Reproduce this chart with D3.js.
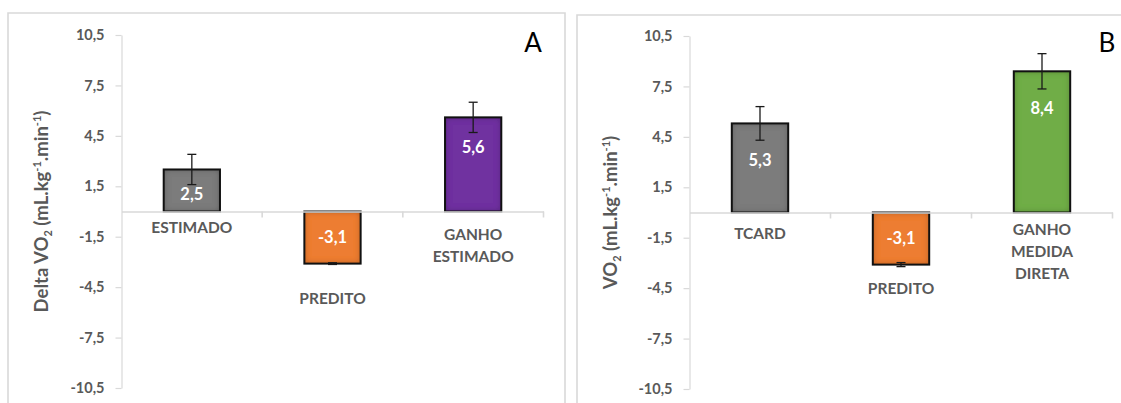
<!DOCTYPE html>
<html>
<head>
<meta charset="utf-8">
<script src="https://cdn.jsdelivr.net/npm/d3@7"></script>
<style>
  html, body { margin: 0; padding: 0; background: #fff; }
  svg { display: block; }
  text { font-family: Lato, "Open Sans", "DejaVu Sans", sans-serif; }
</style>
</head>
<body>
<svg id="chart" width="1121" height="403"></svg>
<script>
// ---- data ----
const tickValues = [-10.5, -7.5, -4.5, -1.5, 1.5, 4.5, 7.5, 10.5];

const categoriesA = [["ESTIMADO"], ["PREDITO"], ["GANHO", "ESTIMADO"]];
const valuesA = [2.5, -3.1, 5.6];
const errorsA = [0.9, 0.05, 0.9];
const colorsA = ["#7b7b7b", "#ed7d31", "#7030a0"];

const categoriesB = [["TCARD"], ["PREDITO"], ["GANHO", "MEDIDA", "DIRETA"]];
const valuesB = [5.3, -3.1, 8.4];
const errorsB = [1.0, 0.12, 1.05];
const colorsB = ["#7b7b7b", "#ed7d31", "#70ad47"];

// ---- layout ----
const svg = d3.select("#chart");
const fmt = v => d3.format(".1f")(v).replace(".", ",").replace("−", "-");
const axisGrey = "#d9d9d9";
const textGrey = "#595959";

// inner shadow used on the bar fills
const defs = svg.append("defs");
const f = defs.append("filter").attr("id", "innerShade")
  .attr("x", "-20%").attr("y", "-20%").attr("width", "140%").attr("height", "140%");
f.append("feComponentTransfer").attr("in", "SourceAlpha").attr("result", "inv")
  .append("feFuncA").attr("type", "table").attr("tableValues", "1 0");
f.append("feGaussianBlur").attr("in", "inv").attr("stdDeviation", 3).attr("result", "blur");
f.append("feFlood").attr("flood-color", "#000").attr("flood-opacity", 0.55).attr("result", "col");
f.append("feComposite").attr("in", "col").attr("in2", "blur").attr("operator", "in").attr("result", "sh");
f.append("feComposite").attr("in", "sh").attr("in2", "SourceAlpha").attr("operator", "in").attr("result", "shIn");
const m = f.append("feMerge");
m.append("feMergeNode").attr("in", "SourceGraphic");
m.append("feMergeNode").attr("in", "shIn");

function panel(cfg) {
  const g = svg.append("g");

  // frame
  g.append("path")
    .attr("d", `M${cfg.frame[0]},${cfg.frame[3]} V${cfg.frame[1]} H${cfg.frame[2]} V${cfg.frame[3]}`)
    .attr("fill", "none").attr("stroke", axisGrey).attr("stroke-width", 1.6);

  const y = d3.scaleLinear().domain([-10.5, 10.5]).range([cfg.bottom, cfg.top]);
  const x = d3.scaleBand().domain(d3.range(cfg.values.length))
    .range([cfg.left, cfg.right]).paddingInner(0.6).paddingOuter(0.3);

  // y axis
  const yAxis = g.append("g").attr("transform", `translate(${cfg.left},0)`)
    .call(d3.axisLeft(y).tickValues(tickValues).tickSizeInner(6).tickSizeOuter(0).tickPadding(11).tickFormat(fmt));
  yAxis.select(".domain").attr("stroke", axisGrey).attr("stroke-width", 1.2);
  yAxis.selectAll(".tick line").attr("stroke", axisGrey).attr("stroke-width", 1.2);
  yAxis.selectAll(".tick text").attr("fill", textGrey).attr("font-size", 14.5)
    .attr("font-weight", 700).attr("font-family", "Lato, sans-serif");

  // y title
  const t = g.append("text")
    .attr("transform", `translate(${cfg.titleX},${(cfg.top + cfg.bottom) / 2}) rotate(-90)`)
    .attr("text-anchor", "middle").attr("fill", textGrey)
    .attr("font-size", 18.5).attr("font-weight", 700);
  cfg.title.forEach(p => {
    const s = t.append("tspan").text(p.t);
    if (p.sub) s.attr("font-size", 11).attr("dy", 4);
    if (p.sup) s.attr("font-size", 11).attr("dy", -7);
    if (p.back) s.attr("dy", p.back);
  });

  // bars
  const y0 = y(0);
  const bars = g.append("g");
  cfg.values.forEach((v, i) => {
    const bx = x(i), bw = x.bandwidth();
    const top = Math.min(y(v), y0), h = Math.abs(y(v) - y0);
    bars.append("rect").attr("x", bx).attr("y", top).attr("width", bw).attr("height", h)
      .attr("fill", cfg.colors[i]).attr("filter", "url(#innerShade)");
    bars.append("rect").attr("x", bx).attr("y", top).attr("width", bw).attr("height", h)
      .attr("fill", "none").attr("stroke", "#111").attr("stroke-width", 2);
  });

  // x axis (zero line + category dividers)
  const xAxis = g.append("g").attr("transform", `translate(0,${y0})`)
    .call(d3.axisBottom(x).tickSize(0).tickFormat(""));
  xAxis.select(".domain").attr("stroke", axisGrey).attr("stroke-width", 1.6);
  xAxis.selectAll(".tick").remove();
  d3.range(1, cfg.values.length + 1).forEach(k => {
    const xx = cfg.left + x.step() * k;
    xAxis.append("line").attr("x1", xx).attr("x2", xx).attr("y1", 0).attr("y2", 6)
      .attr("stroke", axisGrey).attr("stroke-width", 1.6);
  });

  // error bars
  const err = g.append("g").attr("stroke", "#1a1a1a").attr("stroke-width", 1.3);
  cfg.values.forEach((v, i) => {
    const cx = x(i) + x.bandwidth() / 2;
    const e = cfg.errors[i];
    const yHi = y(v + e), yLo = y(v - e);
    err.append("line").attr("x1", cx).attr("x2", cx).attr("y1", yHi).attr("y2", yLo);
    err.append("line").attr("x1", cx - 4.5).attr("x2", cx + 4.5).attr("y1", yHi).attr("y2", yHi);
    err.append("line").attr("x1", cx - 4.5).attr("x2", cx + 4.5).attr("y1", yLo).attr("y2", yLo);
  });

  // value labels
  cfg.values.forEach((v, i) => {
    const cx = x(i) + x.bandwidth() / 2;
    const ly = v >= 0 ? y(v) + cfg.labelDy[i] : (y(v) + y0) / 2;
    g.append("text").attr("x", cx).attr("y", ly).attr("dy", "0.35em")
      .attr("text-anchor", "middle").attr("fill", "#fff")
      .attr("font-size", 16.5).attr("font-weight", 700).text(fmt(v));
  });

  // category labels
  cfg.categories.forEach((lines, i) => {
    const cx = x(i) + x.bandwidth() / 2;
    lines.forEach((ln, j) => {
      g.append("text").attr("x", cx).attr("y", cfg.catY[i] + j * 22).attr("dy", "0.35em")
        .attr("text-anchor", "middle").attr("fill", textGrey)
        .attr("font-size", 15.5).attr("font-weight", 700).text(ln);
    });
  });

  // panel letter
  g.append("text").attr("x", cfg.letterX).attr("y", 43).attr("dy", "0.35em")
    .attr("text-anchor", "middle").attr("fill", "#000")
    .attr("font-size", 26).attr("font-family", "'Open Sans', sans-serif").text(cfg.letter);
}

panel({
  frame: [8, 13, 565, 403],
  left: 121.5, right: 543.5, top: 35, bottom: 388,
  values: valuesA, errors: errorsA, colors: colorsA, categories: categoriesA,
  labelDy: [25, 0, 30], catY: [228, 299, 235],
  titleX: 48,
  title: [{t: "Delta VO"}, {t: "2", sub: true}, {t: " (mL.kg", back: -4}, {t: "-1", sup: true}, {t: ".min", back: 7}, {t: "-1", sup: true}, {t: ")", back: 7}],
  letter: "A", letterX: 533
});

panel({
  frame: [577, 15, 1130, 403],
  left: 689.5, right: 1112.5, top: 36, bottom: 389,
  values: valuesB, errors: errorsB, colors: colorsB, categories: categoriesB,
  labelDy: [37, 0, 37], catY: [234, 289, 230],
  titleX: 617,
  title: [{t: "VO"}, {t: "2", sub: true}, {t: " (mL.kg", back: -4}, {t: "-1", sup: true}, {t: ".min", back: 7}, {t: "-1", sup: true}, {t: ")", back: 7}],
  letter: "B", letterX: 1107
});
</script>
</body>
</html>
